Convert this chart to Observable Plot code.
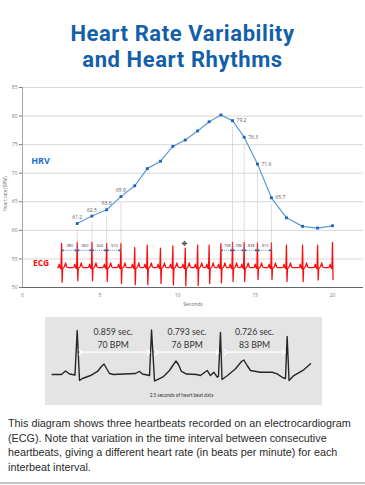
<!DOCTYPE html>
<html><head><meta charset="utf-8">
<script src="https://cdn.jsdelivr.net/npm/d3@7"></script>
<script src="https://cdn.jsdelivr.net/npm/@observablehq/plot@0.6"></script>
<style>
body{margin:0;background:#fff;width:365px;height:485px;position:relative;overflow:hidden;}
.title{position:absolute;left:0;width:365px;text-align:center;font:700 22px/22px Roboto,sans-serif;letter-spacing:0.6px;color:#135faa;white-space:nowrap;}
#t1{top:23px;}
#t2{top:49.2px;}
#main{position:absolute;left:0;top:80px;width:365px;height:230px;}
#strip{position:absolute;left:45px;top:317px;width:277px;height:88px;}
#strip svg{background:#e4e4e4;}
#caption{position:absolute;left:8px;top:416.4px;width:357px;font:10.8px/14.4px "Liberation Sans",Arial,sans-serif;color:#2b2b2b;white-space:nowrap;}
#rule{position:absolute;left:0;top:482px;width:365px;height:1.5px;background:#c4c4c4;}
</style></head><body>
<div class="title" id="t1">Heart Rate Variability</div>
<div class="title" id="t2">and Heart Rhythms</div>
<div id="main"></div>
<div id="strip"></div>
<div id="caption">This diagram shows three heartbeats recorded on an electrocardiogram<br>(ECG). Note that variation in the time interval between consecutive<br>heartbeats, giving a different heart rate (in beats per minute) for each<br>interbeat interval.</div>
<div id="rule"></div>
<script>
// ---------- main chart data ----------
const yTicks = [50, 55, 60, 65, 70, 75, 80, 85];
const xTicks = [0, 5, 10, 15, 20];
const seriesNames = ["HRV", "ECG"];
const axisTitles = {x: "Seconds", y: "Heart rate (BPM)"};

// R-peak times (s) and ECG spike extents (BPM-axis units)
const beatTimes   = [2.52, 3.53, 4.48, 5.43, 6.35, 7.24, 8.05, 8.9, 9.7, 10.5, 11.3, 12.04, 12.8, 13.55, 14.3, 15.16, 16.06, 17.03, 18.07, 19.04, 20.0];
const beatTops    = [57.7, 57.9, 57.9, 57.7, 57.7, 57.0, 57.4, 56.9, 57.3, 56.9, 57.4, 57.4, 57.7, 57.9, 57.9, 57.8, 57.8, 57.4, 57.4, 57.4, 57.9];
const beatBottoms = [50.9, 51.2, 51.2, 51.05, 50.7, 50.5, 50.5, 50.7, 50.45, 50.3, 50.35, 50.7, 50.8, 51.05, 51.05, 51.4, 51.4, 51.05, 51.05, 51.3, 51.4];
// one beat shape: offset from R-peak (s) and level ("top"/"bottom" = spike extent)
const beatShapeDt = [-0.26, -0.2, -0.15, -0.1, -0.04, 0, 0.035, 0.07, 0.18, 0.26, 0.33, 0.4];
const beatShapeV  = [53.5, 53.6, 54.1, 53.5, 53.3, "top", "bottom", 53.3, 53.6, 54.3, 53.6, 53.5];

// heart-rate series
const hrvTimes  = [3.53, 4.48, 5.43, 6.35, 7.24, 8.05, 8.9, 9.7, 10.5, 11.3, 12.04, 12.8, 13.55, 14.3, 15.16, 16.06, 17.03, 18.07, 19.04, 20.0];
const hrvValues = [61.2, 62.5, 63.6, 65.9, 67.8, 70.8, 72.1, 74.7, 75.8, 77.4, 79.0, 80.2, 79.2, 76.3, 71.6, 65.7, 62.2, 60.7, 60.4, 60.8];
const labeledLeft  = [0, 1, 2, 3];
const labeledRight = [12, 13, 14, 15];

// interbeat intervals annotated (beat index pairs) and their labels
const intervalPairs  = [[0, 1], [1, 2], [2, 3], [3, 4], [12, 13], [13, 14], [14, 15], [15, 16]];
const intervalLabels = [".980", ".960", ".944", ".910", ".758", ".786", ".838", ".913"];

// ---------- strip (inset) data: 2.5 s of ECG ----------
const stripT = [0.060,0.144,0.181,0.217,0.266,0.286,0.307,0.334,0.406,0.469,0.505,0.528,0.551,0.578,0.614,0.812,0.848,0.875,0.939,0.957,0.984,1.011,1.065,1.119,1.155,1.178,1.200,1.227,1.273,1.363,1.399,1.459,1.489,1.519,1.550,1.561,1.579,1.593,1.643,1.715,1.769,1.790,1.820,1.850,1.940,2.046,2.091,2.139,2.166,2.181,2.198,2.241,2.331,2.392];
const stripV = [-0.023,-0.023,0.058,-0.012,-0.035,1.0,-0.163,-0.116,-0.047,0.047,0.163,0.221,0.116,0,-0.023,0,0.047,-0.012,-0.047,1.012,-0.174,-0.140,-0.070,0.070,0.209,0.291,0.209,0.047,-0.012,-0.023,-0.047,0.070,-0.047,0.030,-0.086,-0.070,0.953,-0.140,-0.047,0.109,0.279,0.314,0.186,0.070,0.030,0.030,-0.007,-0.093,-0.116,0.860,-0.163,-0.047,0.086,0.226];
const arrowStarts = [0.316, 1.002, 1.625];
const arrowEnds   = [0.930, 1.550, 2.151];
const arrowLevel  = 0.495;
const intervalSec = ["0.859 sec.", "0.793 sec.", "0.726 sec."];
const intervalBpm = ["70 BPM", "76 BPM", "83 BPM"];
const intervalCenters = [0.610, 1.278, 1.886];
const stripNote = "2.5 seconds of heart beat data";

// ---------- build tables ----------
const ecg = beatTimes.flatMap((t, i) => beatShapeDt.map((d, j) => ({
  t: t + d,
  v: beatShapeV[j] === "top" ? beatTops[i] : beatShapeV[j] === "bottom" ? beatBottoms[i] : beatShapeV[j]
}))).filter(d => d.t <= beatTimes[beatTimes.length - 1] + 0.04);
const hrv = hrvTimes.map((t, i) => ({t, v: hrvValues[i]}));
const leftPts = labeledLeft.map(i => hrv[i]);
const rightPts = labeledRight.map(i => hrv[i]);
const guides = [...leftPts, ...rightPts];
const intervals = intervalPairs.map(([a, b], k) => ({a: beatTimes[a] + 0.07, b: beatTimes[b] - 0.1, label: intervalLabels[k], mid: (beatTimes[a] + beatTimes[b]) / 2}));
const intervalEnds = intervals.flatMap(d => [d.a, d.b]);

const main = Plot.plot({
  width: 365, height: 230,
  marginTop: 7, marginBottom: 23, marginLeft: 22, marginRight: 2,
  x: {domain: [0, 22]},
  y: {domain: [50, 85]},
  style: {fontFamily: "'Open Sans', sans-serif", fontSize: "5px", background: "transparent"},
  marks: [
    Plot.gridY(yTicks.filter(d => d > 50), {stroke: "#d9d9d9", strokeOpacity: 1}),
    Plot.ruleX([0], {stroke: "#a6a6a6"}),
    Plot.axisY(yTicks, {tickSize: 3, tickPadding: 2, color: "#7a7a7a", fontSize: 5, label: null}),
    Plot.axisX(xTicks, {tickSize: 0, tickPadding: 6, color: "#7a7a7a", fontSize: 5, label: null}),
    Plot.ruleY([50], {stroke: "#666"}),
    Plot.text([axisTitles.x], {x: 11, y: 50, dy: 17, text: d => d, fontSize: 5, fill: "#666"}),
    Plot.text([axisTitles.y], {x: 0, y: 66.4, dx: -17, rotate: -90, text: d => d, fontSize: 4.5, fill: "#666"}),
    // ECG trace
    Plot.line(ecg, {x: "t", y: "v", stroke: "#ff0a0a", strokeWidth: 1.25}),
    // guide lines
    Plot.ruleX(guides, {x: "t", y1: d => d.v - 1.25, y2: 56.6, stroke: "#a0a0a0", strokeWidth: 0.7, strokeDasharray: "1,1"}),
    // intervals
    Plot.link(intervals, {x1: "a", x2: "b", y1: 56.5, y2: 56.5, stroke: "#3d7fd0", strokeWidth: 0.8, strokeDasharray: "1,1"}),
    Plot.dot(intervalEnds, {x: d => d, y: 56.5, symbol: "square", r: 1.1, fill: "#2b6cc4"}),
    Plot.text(intervals, {x: "mid", y: 57.25, text: "label", fontSize: 3.8, fill: "#333"}),
    // HRV
    Plot.line(hrv, {x: "t", y: "v", stroke: "#5b9bd5", strokeWidth: 1.2}),
    Plot.dot(hrv, {x: "t", y: "v", symbol: "square", r: 1.6, fill: "#1f5fbf"}),
    Plot.text(leftPts, {x: "t", y: "v", text: d => d.v.toFixed(1), dy: -6, fontSize: 5, fill: "#555"}),
    Plot.text(rightPts, {x: "t", y: "v", text: d => d.v.toFixed(1), dx: 4, textAnchor: "start", fontSize: 5, fill: "#555"}),
    // series names
    Plot.text([seriesNames[0]], {x: 1.16, y: 72.1, text: d => d, fontSize: 9, fontWeight: "bold", fill: "#1f6fc6", fontFamily: "'Open Sans', sans-serif"}),
    Plot.text([seriesNames[1]], {x: 1.2, y: 54.2, text: d => d, fontSize: 8.5, fontWeight: "bold", fill: "#ff0a0a", fontFamily: "'Open Sans', sans-serif"}),
    Plot.text(["\u2725"], {x: 10.45, y: 57.6, text: d => d, fontSize: 7, fill: "#333", fontFamily: "DejaVu Sans"})
  ]
});
document.getElementById("main").appendChild(main);

const strip = stripT.map((t, i) => ({t, v: stripV[i]}));
const arrows = arrowStarts.map((s, i) => ({s, e: arrowEnds[i]}));
const notes = intervalCenters.map((c, i) => ({c, sec: intervalSec[i], bpm: intervalBpm[i]}));
const inset = Plot.plot({
  width: 277, height: 88,
  margin: 0,
  x: {domain: [0, 2.5], axis: null},
  y: {domain: [-0.744, 1.302], axis: null},
  style: {fontFamily: "Lato, sans-serif", background: "#e4e4e4"},
  marks: [
    Plot.line(strip, {x: "t", y: "v", stroke: "#262626", strokeWidth: 1.4, strokeLinejoin: "round"}),
    Plot.link(arrows, {x1: "s", x2: "e", y1: arrowLevel, y2: arrowLevel, stroke: "#ffffff", strokeWidth: 1.3, markerStart: "arrow", markerEnd: "arrow"}),
    Plot.text(notes, {x: "c", y: 0.884, text: "sec", lineAnchor: "bottom", fontSize: 8.7, fill: "#333"}),
    Plot.text(notes, {x: "c", y: 0.588, text: "bpm", lineAnchor: "bottom", fontSize: 8.7, fill: "#333"}),
    Plot.text([stripNote], {x: 1.227, y: -0.535, text: d => d, lineAnchor: "bottom", fontSize: 4.8, fill: "#333"})
  ]
});
document.getElementById("strip").appendChild(inset);
</script>
</body></html>
